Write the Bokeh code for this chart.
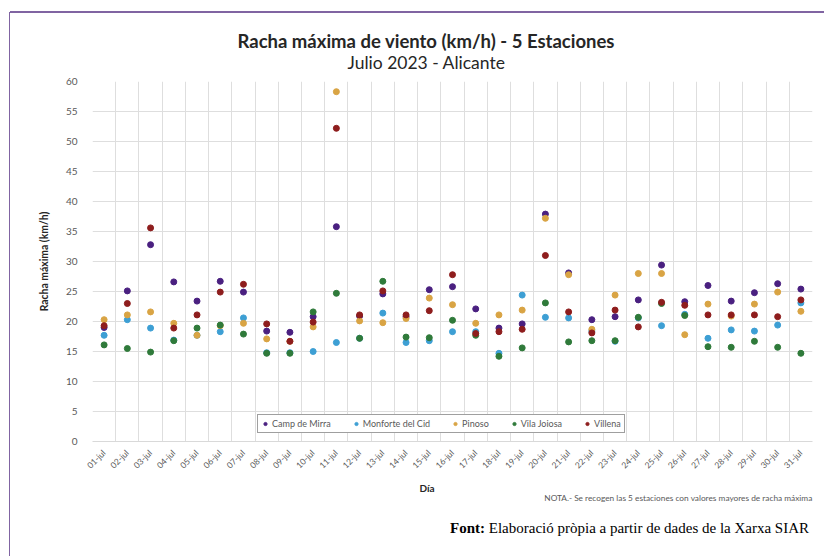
import math
from bokeh.plotting import figure
from bokeh.models import Range1d, FixedTicker, Title, Div
from bokeh.layouts import row, column
from bokeh.embed import file_html
from bokeh.resources import INLINE

# ---------------- data ----------------
dias = ["01-jul", "02-jul", "03-jul", "04-jul", "05-jul", "06-jul", "07-jul", "08-jul",
        "09-jul", "10-jul", "11-jul", "12-jul", "13-jul", "14-jul", "15-jul", "16-jul",
        "17-jul", "18-jul", "19-jul", "20-jul", "21-jul", "22-jul", "23-jul", "24-jul",
        "25-jul", "26-jul", "27-jul", "28-jul", "29-jul", "30-jul", "31-jul"]

camp_de_mirra = [19.0, 25.1, 32.8, 26.6, 23.4, 26.7, 24.9, 18.4, 18.2, 20.8, 35.8, 20.9, 24.6, 20.8, 25.3, 25.8,
                 22.1, 18.9, 19.6, 37.9, 28.1, 20.3, 20.8, 23.6, 29.4, 23.3, 26.0, 23.4, 24.8, 26.3, 25.4]
monforte_del_cid = [17.7, 20.3, 18.9, 16.9, 17.7, 18.3, 20.6, 14.8, 14.8, 15.0, 16.5, 17.2, 21.4, 16.5, 16.8, 18.3,
                    18.3, 14.7, 24.4, 20.7, 20.6, 18.4, 16.7, 20.6, 19.3, 21.2, 17.2, 18.6, 18.4, 19.4, 23.1]
pinoso = [20.3, 21.1, 21.6, 19.7, 17.7, 19.3, 19.7, 17.1, 16.7, 19.1, 58.3, 20.1, 19.8, 20.5, 23.9, 22.8,
          19.7, 21.1, 21.9, 37.2, 27.8, 18.7, 24.4, 28.0, 28.0, 17.8, 22.9, 20.9, 22.9, 24.9, 21.7]
vila_joiosa = [16.1, 15.5, 14.9, 16.8, 18.9, 19.4, 17.9, 14.7, 14.7, 21.6, 24.7, 17.2, 26.7, 17.4, 17.3, 20.2,
               17.7, 14.2, 15.6, 23.1, 16.6, 16.8, 16.8, 20.7, 23.0, 21.0, 15.8, 15.7, 16.7, 15.7, 14.7]
villena = [19.3, 23.0, 35.6, 18.9, 21.1, 24.9, 26.2, 19.6, 16.7, 19.9, 52.2, 21.1, 25.1, 21.1, 21.8, 27.8,
           18.0, 18.3, 18.7, 31.0, 21.6, 18.1, 21.9, 19.1, 23.2, 22.7, 21.1, 21.1, 21.1, 20.8, 23.6]

series_names = ["Camp de Mirra", "Monforte del Cid", "Pinoso", "Vila Joiosa", "Villena"]
series_values = [camp_de_mirra, monforte_del_cid, pinoso, vila_joiosa, villena]
series_colors = ["#4a2080", "#3d9fd4", "#d9a444", "#2f7a3a", "#8e1d1d"]

y_ticks = list(range(0, 61, 5))

titulo = "Racha máxima de viento (km/h) - 5 Estaciones"
subtitulo = "Julio 2023 - Alicante"
eje_y = "Racha máxima (km/h)"
eje_x = "Día"
nota = "NOTA.- Se recogen las 5 estaciones con valores mayores de racha máxima"
fuente = "Elaboració pròpia a partir de dades de la Xarxa SIAR"

PURPLE = "#8064a2"

# ---------------- figure ----------------
x_idx = list(range(1, len(dias) + 1))

p = figure(width=814, height=502, output_backend="svg", toolbar_location=None,
           x_range=Range1d(0.5, len(dias) + 0.5), y_range=Range1d(0, 60),
           min_border_left=82, min_border_right=12, min_border_top=68, min_border_bottom=74,
           background_fill_color="white", border_fill_color="white",
           title=titulo, margin=(0, 0, 0, 0))
p.outline_line_color = None

for name, vals, col in zip(series_names, series_values, series_colors):
    p.scatter(x_idx, vals, size=6, fill_color=col, line_color=col, legend_label=name)

# titles: the one added later sits closer to the frame
p.title.align = "left"
p.title.offset = 145
p.title.standoff = -20
p.title.text_font = "Lato"
p.title.text_font_style = "bold"
p.title.text_font_size = "18.5px"
p.title.text_color = "#262626"
p.add_layout(Title(text=subtitulo, align="left", offset=255, standoff=17, text_font="Lato",
                   text_font_style="normal", text_font_size="17.5px", text_color="#262626"), "above")

# axes
p.xaxis.ticker = FixedTicker(ticks=x_idx)
p.xaxis.major_label_overrides = {i: d for i, d in zip(x_idx, dias)}
p.xaxis.major_label_orientation = math.pi / 4
p.xaxis.major_label_text_font = "Lato"
p.xaxis.major_label_text_font_size = "8.5px"
p.xaxis.major_label_text_color = "#595959"
p.xaxis.major_label_standoff = 4
p.xaxis.axis_line_color = "#d9d9d9"
p.xaxis.major_tick_line_color = None
p.xaxis.minor_tick_line_color = None

p.yaxis.ticker = FixedTicker(ticks=y_ticks)
p.yaxis.major_label_text_font = "Lato"
p.yaxis.major_label_text_font_size = "10px"
p.yaxis.major_label_text_color = "#595959"
p.yaxis.major_label_standoff = 9
p.yaxis.axis_line_color = None
p.yaxis.major_tick_line_color = None
p.yaxis.minor_tick_line_color = None
p.yaxis.axis_label = eje_y
p.yaxis.axis_label_text_font = "Lato"
p.yaxis.axis_label_text_font_style = "bold"
p.yaxis.axis_label_text_font_size = "10.4px"
p.yaxis.axis_label_text_color = "#262626"
p.yaxis.axis_label_standoff = 13

p.add_layout(Title(text=eje_x, align="left", offset=327, standoff=6, text_font="Lato",
                   text_font_style="bold", text_font_size="10px", text_color="#262626"), "below")
p.add_layout(Title(text=nota, align="right", offset=0, standoff=-12, text_font="Lato",
                   text_font_style="normal", text_font_size="8.3px", text_color="#595959"), "below")

p.xgrid.ticker = FixedTicker(ticks=[i + 0.5 for i in range(0, len(dias) + 1)])
p.ygrid.ticker = FixedTicker(ticks=y_ticks)
p.xgrid.grid_line_color = "#dedede"
p.ygrid.grid_line_color = "#dedede"

# legend
lg = p.legend[0]
lg.orientation = "horizontal"
lg.location = (165, 8)
lg.label_text_font = "Lato"
lg.label_text_font_size = "9px"
lg.label_text_color = "#595959"
lg.label_height = 9
lg.glyph_height = 9
lg.glyph_width = 8
lg.label_standoff = 3
lg.spacing = 21
lg.padding = 3
lg.margin = 0
lg.border_line_color = "#404040"
lg.border_line_width = 1
lg.background_fill_color = "white"
lg.background_fill_alpha = 1

# ---------------- page decorations and source line ----------------
left_bar = Div(width=10, height=556, margin=(0, 0, 0, 0),
               text=f'<div style="position:relative;left:8.5px;top:11.5px;width:1.5px;height:545px;'
                    f'background:{PURPLE};"></div>')
top_bar = Div(width=814, height=2, margin=(11, 0, 0, 0), text="",
              styles={"background-color": PURPLE})
source = Div(width=814, height=41, margin=(0, 0, 0, 0),
             text=f'<div style="margin-left:440px;padding-top:3px;white-space:nowrap;'
                  f'width:372px;font-family:\'Liberation Serif\',serif;font-size:15px;color:#000;">'
                  f'<b>Font:</b> {fuente}</div>')

layout = row(left_bar, column(top_bar, p, source, spacing=0), spacing=0)

open("out.html", "w").write(file_html(layout, INLINE))
